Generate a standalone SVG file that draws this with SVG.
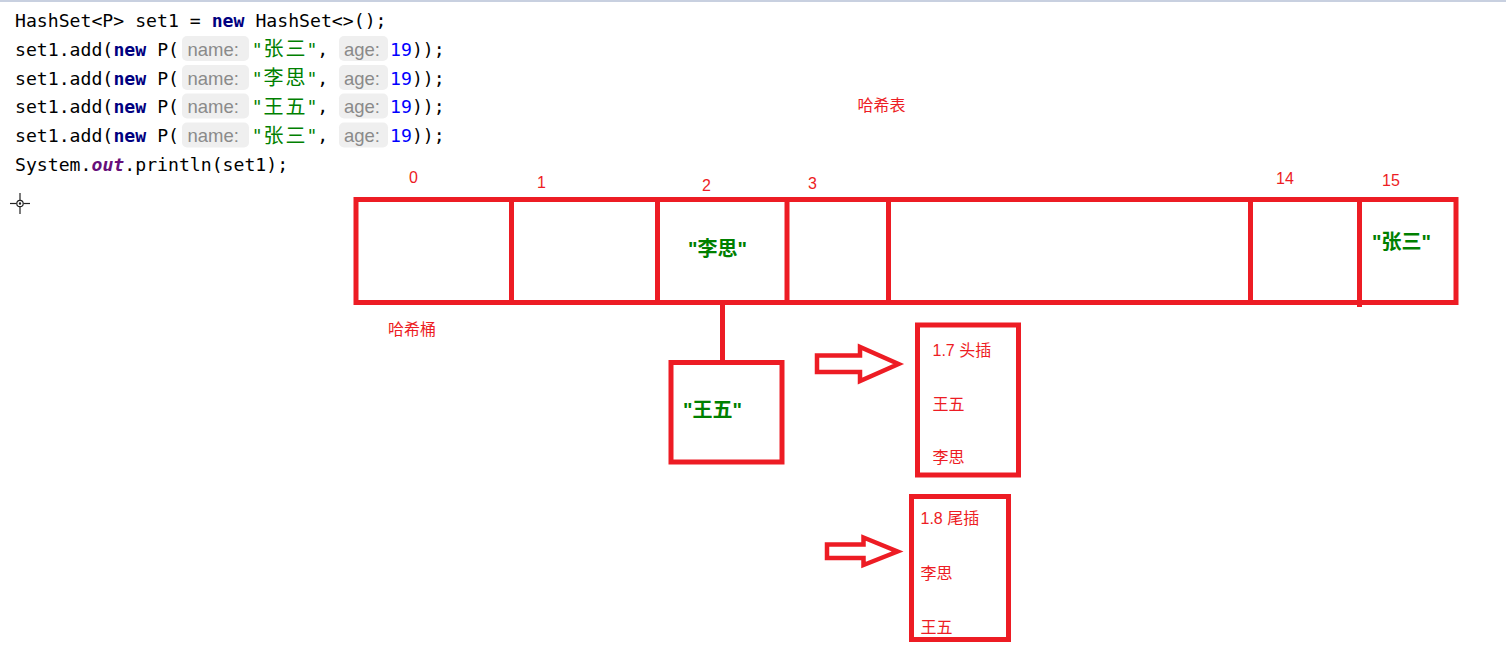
<svg xmlns="http://www.w3.org/2000/svg" width="1506" height="647" viewBox="0 0 1506 647">
<style>
.code{font-family:"DejaVu Sans Mono","Liberation Mono",monospace;font-size:18.15px;fill:#000000}
.kw{font-weight:bold;fill:#000080}
.str{fill:#008000}
.cjk{font-family:"Noto Sans CJK SC",sans-serif;font-size:20px;fill:#008000}
.num{fill:#0000ff}
.fld{font-style:italic;font-weight:bold;fill:#660e7a}
.hintbg{fill:#efefef}
.hint{font-family:"Liberation Sans","Noto Sans",sans-serif;font-size:18.5px;fill:#8a8a8a}
.red{font-family:"Liberation Sans","Noto Sans CJK SC",sans-serif;font-size:16px;fill:#ed1c24}
.val{font-family:"Liberation Sans","Noto Sans CJK SC",sans-serif;font-size:20px;font-weight:bold;fill:#008000}
.box{fill:none;stroke:#ed1c24;stroke-width:5}
.ln{stroke:#ed1c24;stroke-width:5;fill:none}
.blk{fill:none;stroke:#ed1c24;stroke-width:4.5;stroke-linejoin:miter}
</style>
<rect x="0" y="0" width="1506" height="2" fill="#c8d0e0"/>
<g id="code">
  <text class="code" x="15" y="27">HashSet&lt;P&gt; set1 = </text>
  <text class="code kw" x="211.7" y="27">new</text>
  <text class="code" x="244.5" y="27" xml:space="preserve"> HashSet&lt;&gt;();</text>

  <g id="line2">
    <text class="code" x="15" y="55.5">set1.add(</text>
    <text class="code kw" x="113.4" y="55.5">new</text>
    <text class="code" x="157.2" y="55.5">P(</text>
    <rect class="hintbg" x="182" y="36" width="67" height="25" rx="5"/>
    <text class="hint" x="187.5" y="55.5">name:</text>
    <text class="code str" x="251.7" y="55.5">"</text>
    <text class="cjk" x="263.6" y="56">张</text>
    <text class="cjk" x="285.5" y="56">三</text>
    <text class="code str" x="306.4" y="55.5">"</text>
    <text class="code" x="317.3" y="55.5">,</text>
    <rect class="hintbg" x="339" y="36" width="49" height="25" rx="5"/>
    <text class="hint" x="344" y="55.5">age:</text>
    <text class="code num" x="390" y="55.5">19</text>
    <text class="code" x="411.9" y="55.5">));</text>
  </g>
  <g id="line3">
    <text class="code" x="15" y="84.5">set1.add(</text>
    <text class="code kw" x="113.4" y="84.5">new</text>
    <text class="code" x="157.2" y="84.5">P(</text>
    <rect class="hintbg" x="182" y="65" width="67" height="25" rx="5"/>
    <text class="hint" x="187.5" y="84.5">name:</text>
    <text class="code str" x="251.7" y="84.5">"</text>
    <text class="cjk" x="263.6" y="85">李</text>
    <text class="cjk" x="285.5" y="85">思</text>
    <text class="code str" x="306.4" y="84.5">"</text>
    <text class="code" x="317.3" y="84.5">,</text>
    <rect class="hintbg" x="339" y="65" width="49" height="25" rx="5"/>
    <text class="hint" x="344" y="84.5">age:</text>
    <text class="code num" x="390" y="84.5">19</text>
    <text class="code" x="411.9" y="84.5">));</text>
  </g>
  <g id="line4">
    <text class="code" x="15" y="113">set1.add(</text>
    <text class="code kw" x="113.4" y="113">new</text>
    <text class="code" x="157.2" y="113">P(</text>
    <rect class="hintbg" x="182" y="93.5" width="67" height="25" rx="5"/>
    <text class="hint" x="187.5" y="113">name:</text>
    <text class="code str" x="251.7" y="113">"</text>
    <text class="cjk" x="263.6" y="113.5">王</text>
    <text class="cjk" x="285.5" y="113.5">五</text>
    <text class="code str" x="306.4" y="113">"</text>
    <text class="code" x="317.3" y="113">,</text>
    <rect class="hintbg" x="339" y="93.5" width="49" height="25" rx="5"/>
    <text class="hint" x="344" y="113">age:</text>
    <text class="code num" x="390" y="113">19</text>
    <text class="code" x="411.9" y="113">));</text>
  </g>
  <g id="line5">
    <text class="code" x="15" y="142">set1.add(</text>
    <text class="code kw" x="113.4" y="142">new</text>
    <text class="code" x="157.2" y="142">P(</text>
    <rect class="hintbg" x="182" y="122.5" width="67" height="25" rx="5"/>
    <text class="hint" x="187.5" y="142">name:</text>
    <text class="code str" x="251.7" y="142">"</text>
    <text class="cjk" x="263.6" y="142.5">张</text>
    <text class="cjk" x="285.5" y="142.5">三</text>
    <text class="code str" x="306.4" y="142">"</text>
    <text class="code" x="317.3" y="142">,</text>
    <rect class="hintbg" x="339" y="122.5" width="49" height="25" rx="5"/>
    <text class="hint" x="344" y="142">age:</text>
    <text class="code num" x="390" y="142">19</text>
    <text class="code" x="411.9" y="142">));</text>
  </g>
  <text class="code" x="15" y="170.5">System.</text>
  <text class="code fld" x="91.5" y="170.5">out</text>
  <text class="code" x="124.3" y="170.5">.println(set1);</text>
</g>

<g id="cursor" stroke="#222" stroke-width="1.2" fill="none">
  <line x1="10" y1="203.5" x2="16.5" y2="203.5"/>
  <line x1="23.5" y1="203.5" x2="30" y2="203.5"/>
  <line x1="20" y1="193" x2="20" y2="200"/>
  <line x1="20" y1="207" x2="20" y2="214"/>
  <circle cx="20" cy="203.5" r="3.2"/>
  <circle cx="20" cy="203.5" r="0.6" fill="#222"/>
</g>

<g id="title">
  <text class="red" x="857.5" y="111">哈希表</text>
</g>

<g id="hashtable">
  <rect class="box" x="356" y="199.5" width="1100" height="103"/>
  <line class="ln" x1="511.5" y1="199.5" x2="511.5" y2="302.5"/>
  <line class="ln" x1="657.5" y1="199.5" x2="657.5" y2="302.5"/>
  <line class="ln" x1="787" y1="199.5" x2="787" y2="302.5"/>
  <line class="ln" x1="888.5" y1="199.5" x2="888.5" y2="302.5"/>
  <line class="ln" x1="1250.5" y1="199.5" x2="1250.5" y2="304.5"/>
  <line class="ln" x1="1359.5" y1="199.5" x2="1359.5" y2="307"/>
</g>

<g id="labels">
  <text class="red" x="409" y="183">0</text>
  <text class="red" x="537" y="188">1</text>
  <text class="red" x="702" y="191">2</text>
  <text class="red" x="808" y="189">3</text>
  <text class="red" x="1276" y="184">14</text>
  <text class="red" x="1382" y="185.5">15</text>
</g>

<g id="cell2">
  <text class="val" x="688" y="255.5">"李思"</text>
</g>
<g id="cell15">
  <text class="val" x="1372" y="249">"张三"</text>
</g>

<g id="bucket-label">
  <text class="red" x="388" y="335">哈希桶</text>
</g>

<g id="connectors">
  <line class="ln" x1="722.5" y1="302" x2="722.5" y2="362"/>
  <polygon class="blk" points="817,355.5 860,355.5 860,347 898.5,364 860,381 860,372 817,372"/>
  <polygon class="blk" points="827,544.5 863.5,544.5 863.5,537.5 897.5,551.5 863.5,565 863.5,558 827,558"/>
</g>

<g id="node-wangwu">
  <rect class="box" x="671" y="362.5" width="111" height="99.5"/>
  <text class="val" x="683" y="417">"王五"</text>
</g>

<g id="node-head">
  <rect class="box" x="917.5" y="325" width="101" height="150"/>
  <text class="red" x="932.5" y="356">1.7 头插</text>
  <text class="red" x="932.5" y="410">王五</text>
  <text class="red" x="932.5" y="462.5">李思</text>
</g>

<g id="node-tail">
  <rect class="box" x="911.5" y="496.5" width="97" height="143"/>
  <text class="red" x="920.5" y="524">1.8 尾插</text>
  <text class="red" x="920.5" y="578.5">李思</text>
  <text class="red" x="920.5" y="632.5">王五</text>
</g>
</svg>
